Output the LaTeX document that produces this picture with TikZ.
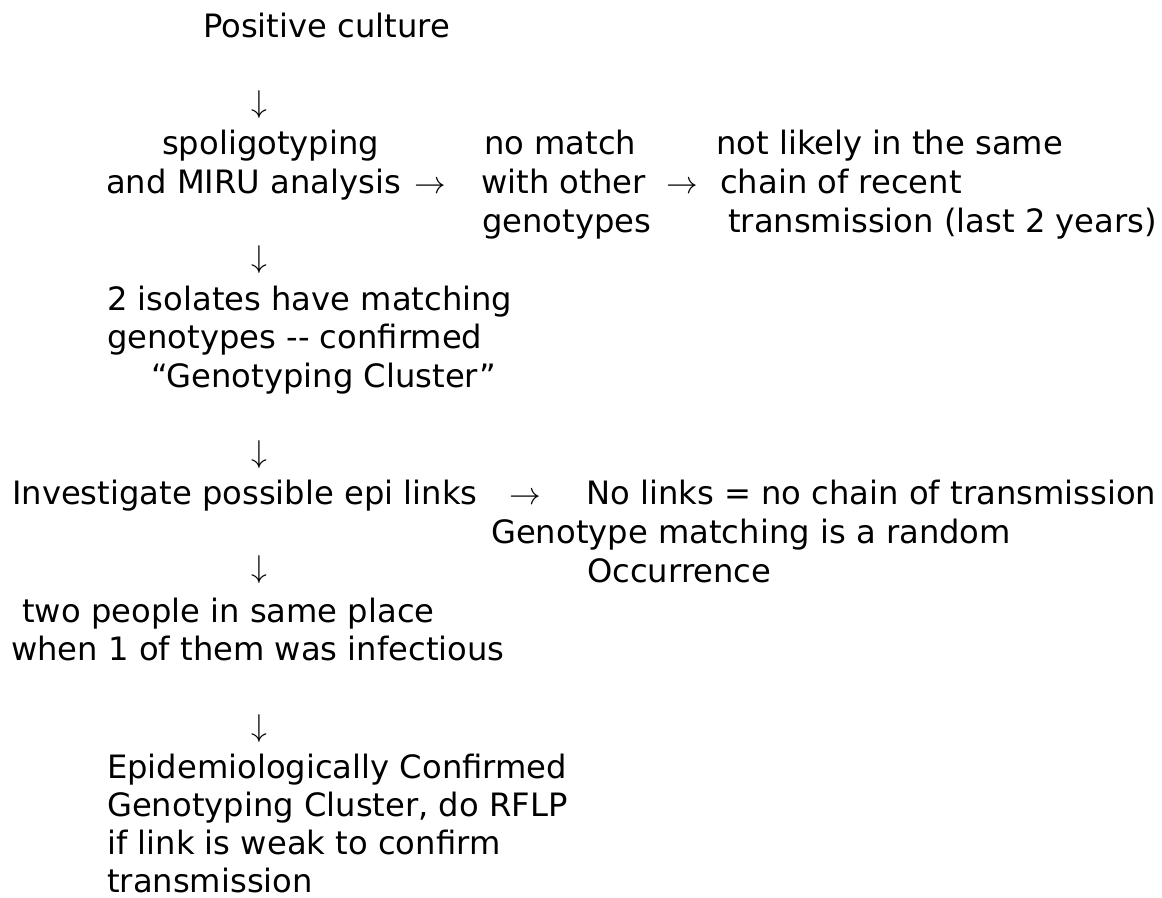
\RequirePackage{fix-cm}
\documentclass[tikz,border=0pt]{standalone}
\usepackage{fontspec}
\setmainfont{DejaVu Sans}
\usepackage{tikz}

\newcommand{\flowfont}{\fontsize{32.2}{38.4}\selectfont}
\newcommand{\arrowfont}{\fontsize{31.6}{38.4}\selectfont}

\begin{document}
\begin{tikzpicture}[x=1pt,y=-1pt,
    line/.style={anchor=base west,inner sep=0pt,font=\flowfont},
    arrowglyph/.style={anchor=base,inner sep=0pt,font=\arrowfont}]
\useasboundingbox (0,0) rectangle (1162,897);
% main column
\node [line] (culture) at (203,37) {Positive culture};
\node [arrowglyph] (down1) at (259,112) {$\downarrow$};
\node [line] (spoligo) at (162,154) {spoligotyping};
\node [line] (miru) at (106,193) {and MIRU analysis};
\node [arrowglyph] (right1) at (430,193) {$\rightarrow$};
\node [arrowglyph] (down2) at (259,267) {$\downarrow$};
\node [line] (isolates) at (107,310) {2 isolates have matching};
\node [line] (confirmed) at (107,348) {genotypes -{}- confirmed};
\node [line] (gcluster) at (151,387) {“Genotyping Cluster”};
\node [arrowglyph] (down3) at (259,462) {$\downarrow$};
\node [line] (investigate) at (12,504) {Investigate possible epi links};
\node [arrowglyph] (right3) at (525,504) {$\rightarrow$};
\node [arrowglyph] (down4) at (259,577) {$\downarrow$};
\node [line] (people) at (22,622) {two people in same place};
\node [line] (infectious) at (11,660) {when 1 of them was infectious};
\node [arrowglyph] (down5) at (259,736) {$\downarrow$};
\node [line] (epi1) at (107,778) {Epidemiologically Confirmed};
\node [line] (epi2) at (107,816) {Genotyping Cluster, do RFLP};
\node [line] (epi3) at (107,854) {if link is weak to confirm};
\node [line] (epi4) at (107,892) {transmission};
% no match branch
\node [line] (nomatch) at (484,154) {no match};
\node [line] (withother) at (481,193) {with other};
\node [line] (genotypes) at (482,232) {genotypes};
\node [arrowglyph] (right2) at (682,193) {$\rightarrow$};
\node [line] (notlikely) at (716,154) {not likely in the same};
\node [line] (chain) at (720,193) {chain of recent};
\node [line] (lastyears) at (728,232) {transmission (last 2 years)};
% no links branch
\node [line] (nolinks) at (586,504) {No links = no chain of transmission};
\node [line] (random) at (491,543) {Genotype matching is a random};
\node [line] (occurrence) at (587,582) {Occurrence};
\end{tikzpicture}
\end{document}
